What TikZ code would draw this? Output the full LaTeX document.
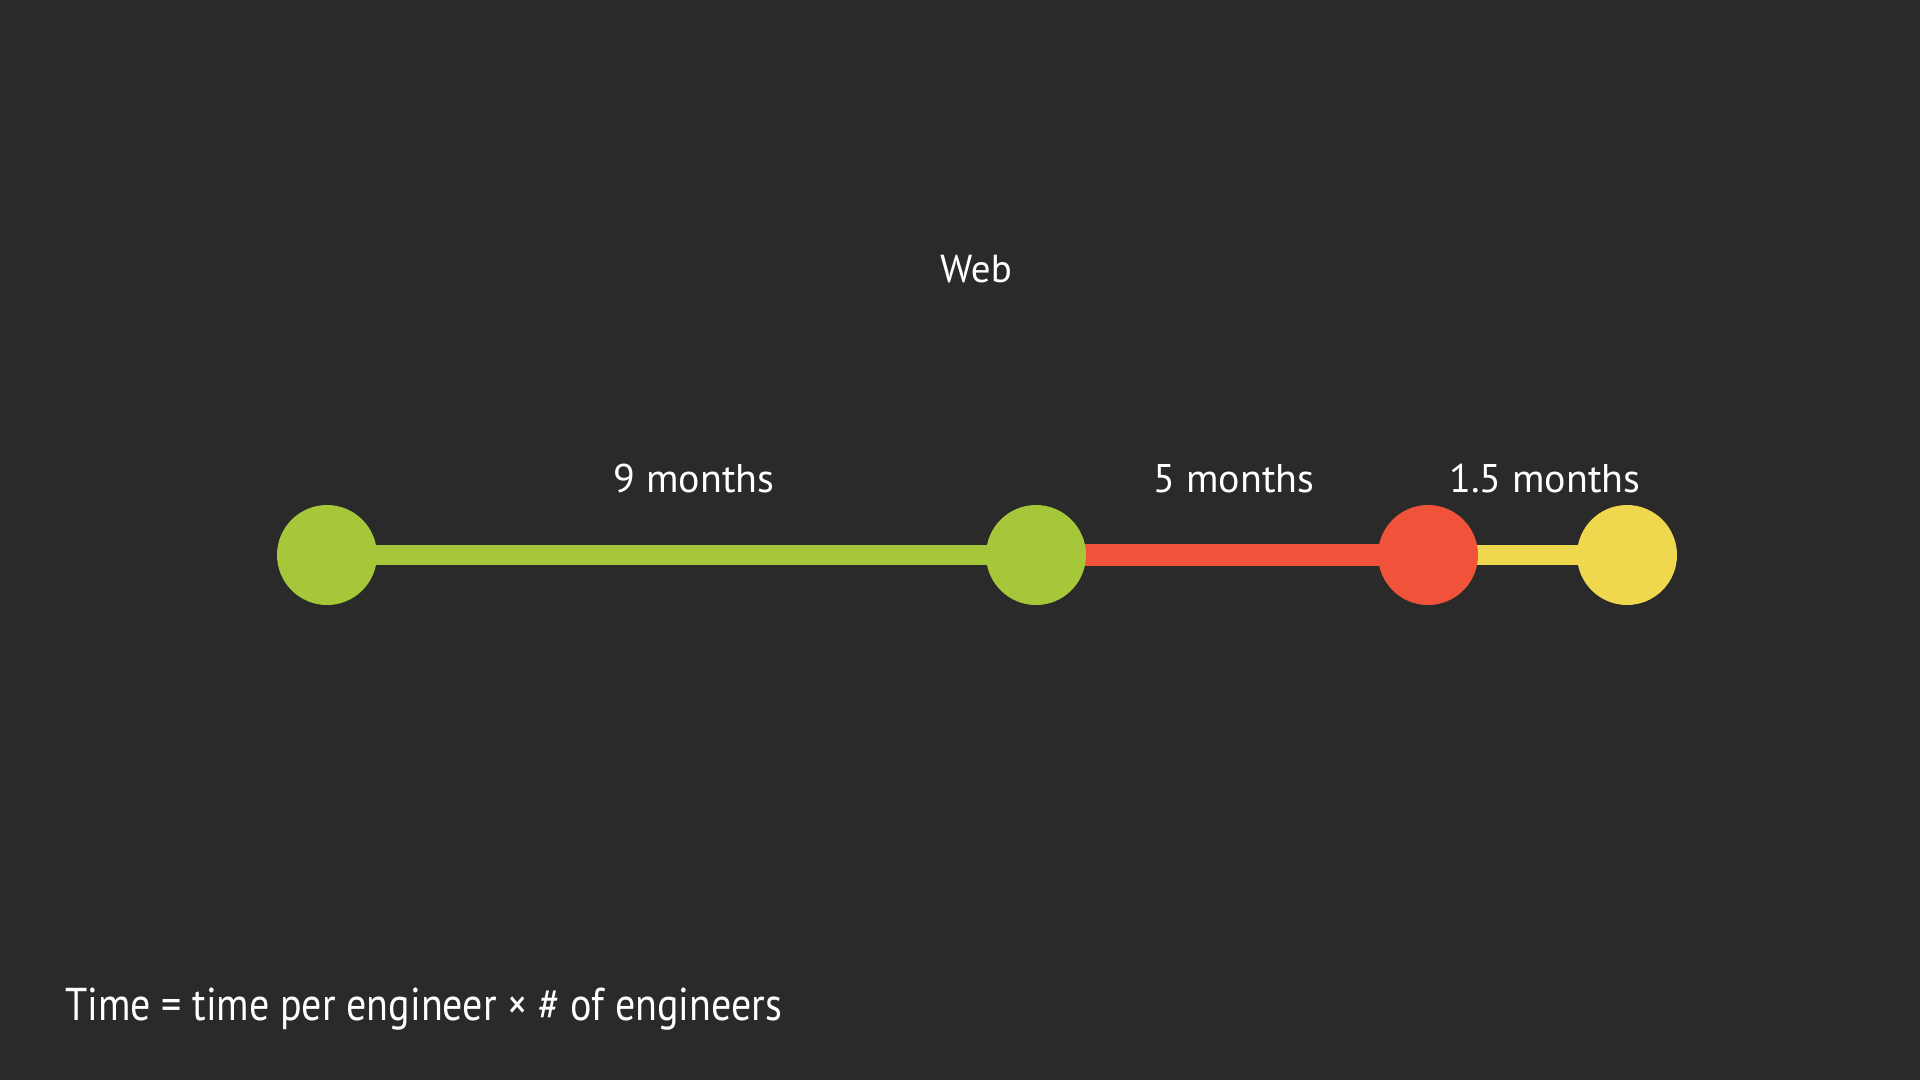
\documentclass[tikz,border=0pt]{standalone}
\usepackage{fontspec}
\setmainfont{PT Sans}
\definecolor{bgc}{HTML}{2A2A2A}
\definecolor{gr}{HTML}{A6C73A}
\definecolor{rd}{HTML}{F0533A}
\definecolor{yl}{HTML}{F0D84E}
\pgfdeclarelayer{bglayer}
\pgfdeclarelayer{lines}
\pgfsetlayers{bglayer,lines,main}
\tikzset{
  dot/.style={circle, minimum size=100pt, inner sep=0pt, fill=#1},
  seg/.style={line width=#1, shorten <=-4pt, shorten >=-4pt},
  lbl/.style={anchor=base, text=white, inner sep=0pt, font=\fontsize{40}{42}\selectfont},
}
\begin{document}
\begin{tikzpicture}[x=1pt,y=-1pt]
\begin{pgfonlayer}{bglayer}
\fill[bgc] (0,0) rectangle (1920,1080);
\end{pgfonlayer}
\useasboundingbox (0,0) rectangle (1920,1080);
\node[dot=gr] (a) at (327,555) {};
\node[dot=gr] (b) at (1036,555) {};
\node[dot=rd] (c) at (1428,555) {};
\node[dot=yl] (d) at (1627,555) {};
\begin{pgfonlayer}{lines}
\draw[seg=20pt, gr] (a) -- (b);
\draw[seg=22pt, rd] (b) -- (c);
\draw[seg=20pt, yl] (c) -- (d);
\end{pgfonlayer}
\node[lbl, font=\fontsize{39}{41}\selectfont] (web) at (976,282) {Web};
\node[lbl] (l1) at (694,492) {9 months};
\node[lbl] (l2) at (1234,492) {5 months};
\node[lbl] (l3) at (1545,492) {1.5 months};
\node[lbl, anchor=base west, font=\fontsize{46}{48}\selectfont] (f) at (65,1020) {\scalebox{0.87}[1]{Time = time per engineer × \# of engineers}};
\end{tikzpicture}
\end{document}
